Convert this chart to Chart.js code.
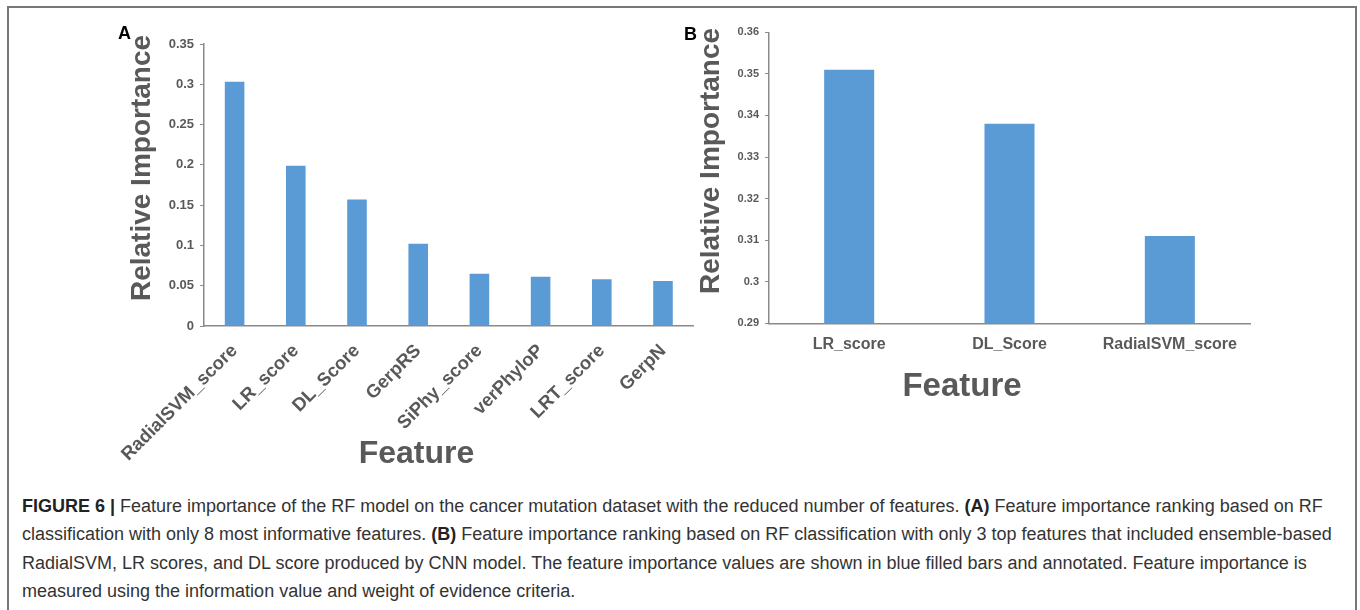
<!DOCTYPE html>
<html>
<head>
<meta charset="utf-8">
<script src="https://cdn.jsdelivr.net/npm/chart.js@4.4.1/dist/chart.umd.min.js"></script>
<style>
  html, body { margin: 0; padding: 0; background: #fff; }
  body { width: 1360px; height: 610px; position: relative; overflow: hidden;
         font-family: "Liberation Sans", Arial, sans-serif; }
  #frame { position: absolute; left: 7px; top: 6px; width: 1350px; height: 700px;
           border: 2px solid #777; box-sizing: border-box; }
  .panel { position: absolute; }
  .panel canvas { display: block; }
  .tag { position: absolute; font: bold 18px "Liberation Sans", Arial, sans-serif; color: #000; }
  #caption { position: absolute; left: 22px; top: 492px; font-size: 18px; line-height: 28.4px;
             color: #333; white-space: nowrap; }
  #caption b { color: #222; }
</style>
</head>
<body>
<div id="frame"></div>
<div class="panel" style="left:100px;top:20px;width:620px;height:460px;"><canvas id="chartA" width="620" height="460"></canvas></div>
<div class="panel" style="left:700px;top:15px;width:580px;height:400px;"><canvas id="chartB" width="580" height="400"></canvas></div>
<div class="tag" style="left:118px;top:23px;">A</div>
<div class="tag" style="left:684px;top:24px;">B</div>
<div id="caption">
  <div><b>FIGURE 6 |</b> Feature importance of the RF model on the cancer mutation dataset with the reduced number of features. <b>(A)</b> Feature importance ranking based on RF</div>
  <div>classification with only 8 most informative features. <b>(B)</b> Feature importance ranking based on RF classification with only 3 top features that included ensemble-based</div>
  <div>RadialSVM, LR scores, and DL score produced by CNN model. The feature importance values are shown in blue filled bars and annotated. Feature importance is</div>
  <div>measured using the information value and weight of evidence criteria.</div>
</div>
<script>
// Panel A: eight most informative features
const featuresA = ['RadialSVM_score', 'LR_score', 'DL_Score', 'GerpRS', 'SiPhy_score', 'verPhyloP', 'LRT_score', 'GerpN'];
const importanceA = [0.303, 0.199, 0.157, 0.102, 0.065, 0.061, 0.058, 0.056];
const ticksA = [0, 0.05, 0.1, 0.15, 0.2, 0.25, 0.3, 0.35];

// Panel B: three top features
const featuresB = ['LR_score', 'DL_Score', 'RadialSVM_score'];
const importanceB = [0.351, 0.338, 0.311];
const ticksB = [0.29, 0.3, 0.31, 0.32, 0.33, 0.34, 0.35, 0.36];

const FONT = '"Liberation Sans", Arial, sans-serif';
const TEXT = '#595959';
const AXIS = '#8a8a8a';
const BAR = '#5b9bd5';

Chart.defaults.font.family = FONT;
Chart.defaults.color = TEXT;

// Axis titles placed relative to the chart area
const axisTitles = {
  id: 'axisTitles',
  afterDraw(chart, args, o) {
    const { ctx, chartArea: a } = chart;
    ctx.save();
    ctx.fillStyle = TEXT;
    ctx.textAlign = 'center';
    ctx.textBaseline = 'middle';
    ctx.font = 'bold ' + o.ySize + 'px ' + FONT;
    ctx.translate(a.left + o.yDx, a.top + o.yDy);
    ctx.rotate(-Math.PI / 2);
    ctx.fillText(o.yText, 0, 0);
    ctx.restore();
    ctx.save();
    ctx.fillStyle = TEXT;
    ctx.textAlign = 'center';
    ctx.textBaseline = 'middle';
    ctx.font = 'bold ' + o.xSize + 'px ' + FONT;
    ctx.fillText(o.xText, a.left + o.xDx, a.bottom + o.xDy);
    ctx.restore();
  }
};

const fmt = v => String(+v.toFixed(3));

function makeChart(id, labels, values, ticks, cfg) {
  return new Chart(document.getElementById(id), {
    type: 'bar',
    data: {
      labels: labels,
      datasets: [{
        data: values,
        backgroundColor: BAR,
        borderWidth: 0,
        categoryPercentage: 1,
        barPercentage: cfg.barPct
      }]
    },
    options: {
      responsive: false,
      animation: false,
      devicePixelRatio: 1,
      layout: { padding: cfg.padding },
      plugins: {
        legend: { display: false },
        tooltip: { enabled: false },
        axisTitles: cfg.titles
      },
      scales: {
        x: {
          grid: { display: false },
          border: { display: true, color: AXIS, width: 1.5 },
          ticks: {
            autoSkip: false,
            minRotation: cfg.rotation,
            maxRotation: cfg.rotation,
            padding: cfg.xPad,
            color: TEXT,
            font: { size: cfg.xFont, weight: 'bold' }
          },
          afterFit: s => { s.height = cfg.xHeight; }
        },
        y: {
          min: ticks[0],
          max: ticks[ticks.length - 1],
          grid: { drawOnChartArea: false, drawTicks: true, tickLength: 4, color: AXIS, lineWidth: 1 },
          border: { display: true, color: AXIS, width: 1.5 },
          ticks: {
            padding: 6,
            color: TEXT,
            font: { size: cfg.yFont, weight: 'bold' },
            callback: fmt
          },
          afterBuildTicks: s => { s.ticks = ticks.map(v => ({ value: v })); },
          afterFit: s => { s.width = cfg.yWidth; }
        }
      }
    },
    plugins: [axisTitles]
  });
}

makeChart('chartA', featuresA, importanceA, ticksA, {
  barPct: 0.32,
  padding: { left: 0, top: 24, right: 26.4, bottom: 0 },
  rotation: 45, xPad: 6, xFont: 18.5, yFont: 13,
  xHeight: 154, yWidth: 104,
  titles: { yText: 'Relative Importance', ySize: 28, yDx: -62, yDy: 124,
            xText: 'Feature', xSize: 32, xDx: 212.5, xDy: 128 }
});

makeChart('chartB', featuresB, importanceB, ticksB, {
  barPct: 0.312,
  padding: { left: 0, top: 17.3, right: 30, bottom: 0 },
  rotation: 0, xPad: 4, xFont: 16, yFont: 11,
  xHeight: 91.7, yWidth: 69,
  titles: { yText: 'Relative Importance', ySize: 28, yDx: -57.5, yDy: 128.7,
            xText: 'Feature', xSize: 33, xDx: 193, xDy: 63.5 }
});
</script>
</body>
</html>
